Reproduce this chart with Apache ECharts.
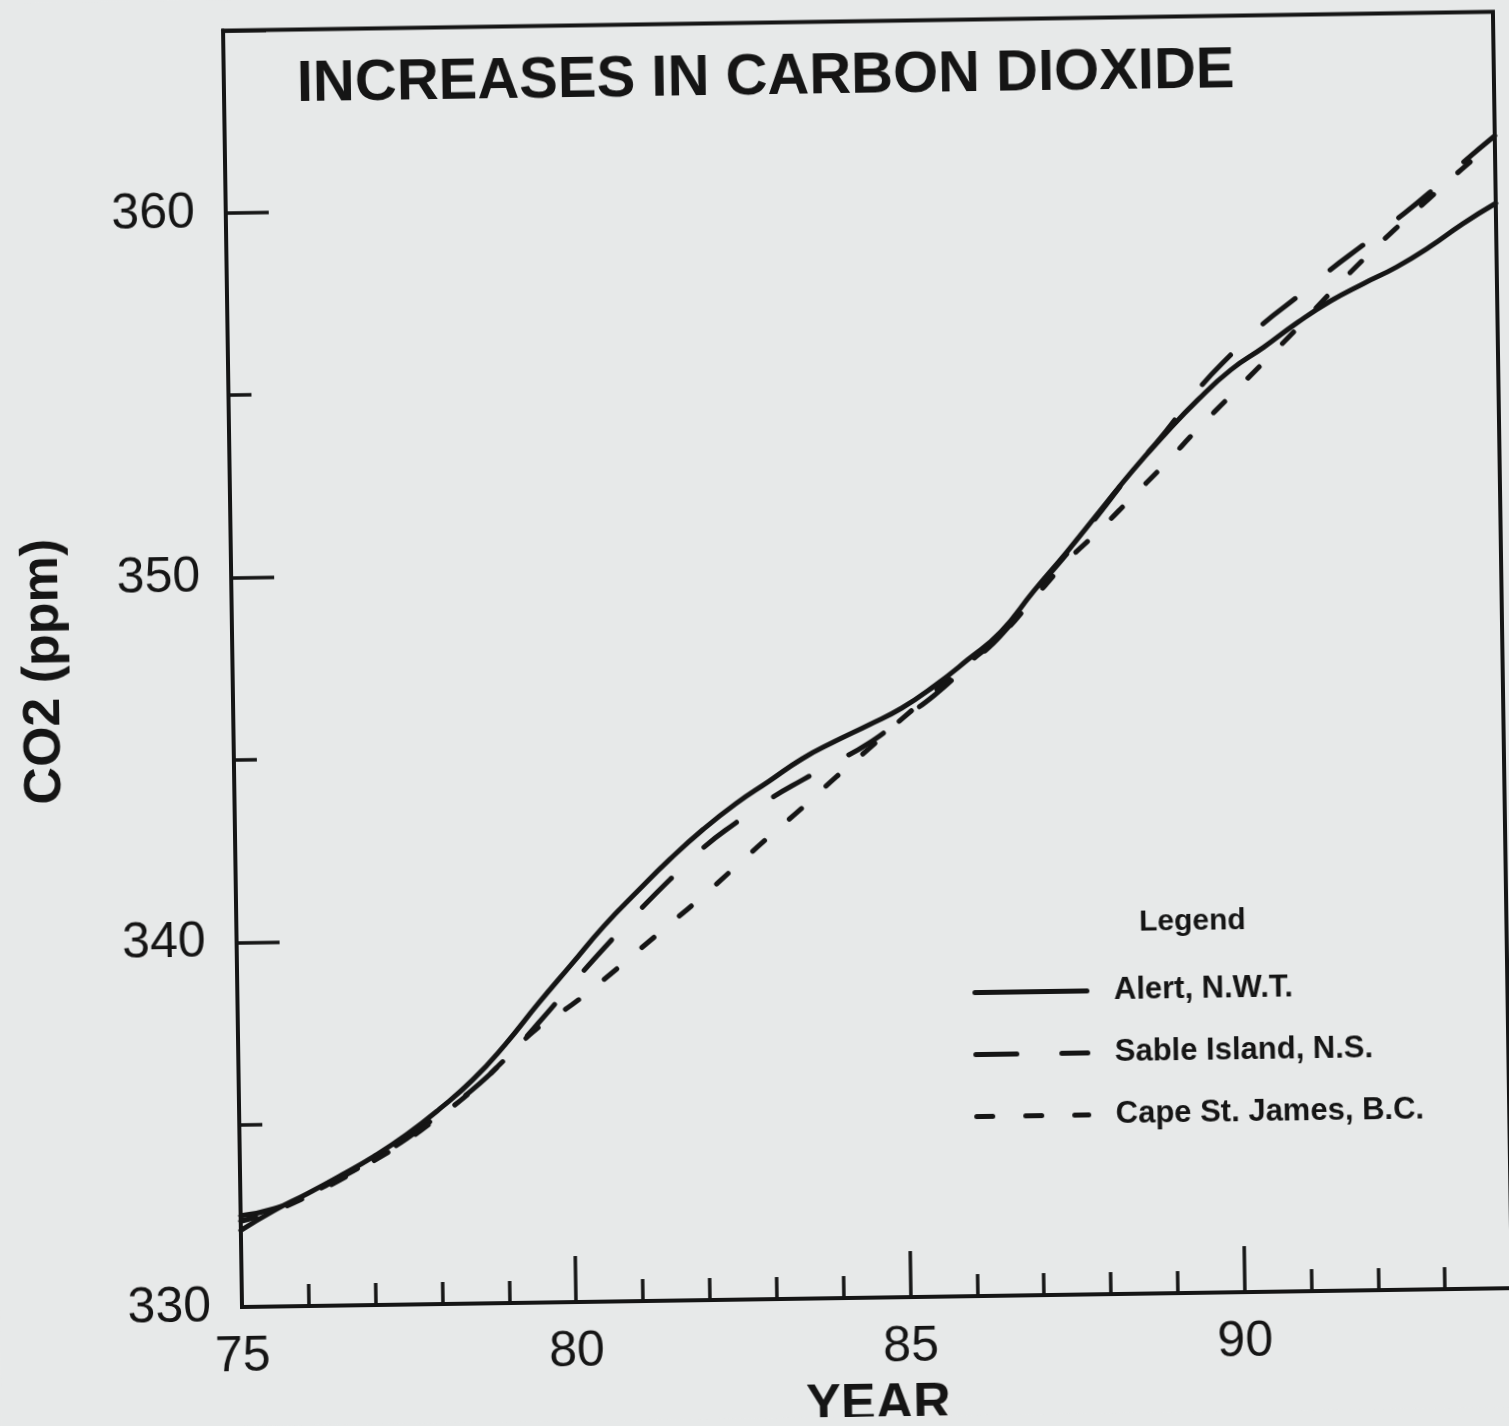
<!DOCTYPE html>
<html>
<head>
<meta charset="utf-8">
<title>Increases in Carbon Dioxide</title>
<script src="https://cdn.jsdelivr.net/npm/echarts@6/dist/echarts.min.js"></script>
<style>
  html, body {
    margin: 0;
    padding: 0;
    width: 1509px;
    height: 1426px;
    overflow: hidden;
    background: #e7e9e9;
  }
  /* the scanned figure sits slightly tilted on the page */
  #chart {
    width: 1560px;
    height: 1426px;
    transform: rotate(-0.85deg);
    transform-origin: 242px 1307px;
  }
</style>
</head>
<body>
<div id="chart"></div>
<script>
const years = [75, 75.5, 76, 76.5, 77, 77.5, 78, 78.5, 79, 79.5, 80, 80.5, 81, 81.5, 82, 82.5, 83, 83.5, 84, 84.5,
  85, 85.5, 86, 86.5, 87, 87.5, 88, 88.5, 89, 89.5, 90, 90.5, 91, 91.5, 92, 92.5, 93, 93.5, 94];

const alert = [332.1, 332.63, 333.08, 333.56, 334.07, 334.66, 335.35, 336.13, 337.1, 338.2, 339.25, 340.3, 341.22,
  342.1, 342.9, 343.6, 344.2, 344.8, 345.27, 345.7, 346.15, 346.75, 347.45, 348.2, 349.3, 350.35, 351.45, 352.55,
  353.55, 354.48, 355.29, 355.9, 356.55, 357.13, 357.6, 358.04, 358.58, 359.2, 359.75];

const sable = [332.5, 332.68, 333.05, 333.5, 334.0, 334.55, 335.2, 335.87, 336.7, 337.67, 338.7, 339.7, 340.65,
  341.55, 342.4, 343.08, 343.7, 344.22, 344.7, 345.2, 345.85, 346.5, 347.3, 348.1, 349.25, 350.3, 351.4, 352.55,
  353.6, 354.75, 355.7, 356.55, 357.25, 357.98, 358.65, 359.33, 360.05, 360.85, 361.6];

const capeStJames = [332.35, 332.62, 333.0, 333.45, 333.95, 334.5, 335.15, 335.85, 336.7, 337.55, 338.15, 338.85,
  339.6, 340.35, 341.1, 341.9, 342.7, 343.47, 344.28, 345.05, 345.85, 346.6, 347.35, 348.1, 349.1, 350.1, 350.95,
  351.85, 352.75, 353.7, 354.6, 355.5, 356.4, 357.35, 358.25, 359.1, 359.9, 360.7, 361.45];

const seriesNames = ['Alert, N.W.T.', 'Sable Island, N.S.', 'Cape St. James, B.C.'];
const xLabelYears = [75, 80, 85, 90];
const yLabelValues = [330, 340, 350, 360];

const ink = '#151515';
const font = '"Liberation Sans", Arial, sans-serif';

const pairs = (vals) => years.map((y, i) => [y, vals[i]]);

const lineSeries = (name, vals, type) => ({
  name,
  type: 'line',
  data: pairs(vals),
  xAxisIndex: 0,
  yAxisIndex: 0,
  smooth: true,
  symbol: 'none',
  lineStyle: { color: ink, width: 5, type, cap: 'round' },
  itemStyle: { color: ink },
});

const chart = echarts.init(document.getElementById('chart'), null, { renderer: 'canvas' });

chart.setOption({
  animation: false,
  backgroundColor: '#e7e9e9',
  title: {
    text: 'INCREASES IN CARBON DIOXIDE',
    left: 315,
    top: 57,
    padding: 0,
    textStyle: { fontFamily: font, fontSize: 58, fontWeight: 'bold', color: ink },
  },
  graphic: [
    {
      type: 'text',
      x: 1198,
      y: 936,
      style: {
        text: 'Legend',
        fill: ink,
        font: 'bold 30px ' + font,
        textAlign: 'center',
        textVerticalAlign: 'middle',
      },
    },
  ],
  legend: {
    orient: 'vertical',
    left: 977,
    top: 988,
    padding: 0,
    itemWidth: 112,
    itemHeight: 31,
    itemGap: 31,
    data: seriesNames,
    lineStyle: { width: 5 },
    // hide the marker dot that line series put in the middle of the sample
    itemStyle: { color: 'transparent', borderWidth: 0, opacity: 0 },
    textStyle: {
      fontFamily: font,
      fontSize: 31,
      fontWeight: 'bold',
      color: ink,
      lineHeight: 31,
      padding: [0, 0, 0, 22],
    },
  },
  grid: {
    left: 242,
    top: 30.5,
    width: 1270,
    height: 1276.5,
    outerBoundsMode: 'none',
    containLabel: false,
    show: true,
    borderColor: ink,
    borderWidth: 4,
    backgroundColor: 'transparent',
  },
  xAxis: [
    {
      type: 'value',
      min: 75,
      max: 94,
      interval: 5,
      position: 'bottom',
      name: 'YEAR',
      nameLocation: 'middle',
      nameGap: 82,
      nameTextStyle: { fontFamily: font, fontSize: 52, fontWeight: 'bold', color: ink },
      axisLine: { lineStyle: { color: ink, width: 4 } },
      axisTick: { inside: true, length: 46, lineStyle: { color: ink, width: 3.5 } },
      axisLabel: {
        fontFamily: font,
        fontSize: 50,
        color: ink,
        margin: 25,
        formatter: (v) => (xLabelYears.includes(v) ? String(v) : ''),
      },
      splitLine: { show: false },
    },
    {
      type: 'value',
      min: 75,
      max: 94,
      interval: 1,
      position: 'bottom',
      axisLine: { show: false },
      axisTick: { inside: true, length: 22, lineStyle: { color: ink, width: 3.5 } },
      axisLabel: { show: false },
      splitLine: { show: false },
    },
  ],
  yAxis: [
    {
      type: 'value',
      min: 330,
      max: 365,
      interval: 10,
      position: 'left',
      name: 'CO2 (ppm)',
      nameLocation: 'middle',
      nameGap: 162,
      nameTextStyle: { fontFamily: font, fontSize: 52, fontWeight: 'bold', color: ink },
      axisLine: { show: true, lineStyle: { color: ink, width: 4 } },
      axisTick: { show: true, inside: true, length: 43, lineStyle: { color: ink, width: 3.5 } },
      axisLabel: {
        fontFamily: font,
        fontSize: 50,
        color: ink,
        margin: 31,
        formatter: (v) => (yLabelValues.includes(v) ? String(v) : ''),
      },
      splitLine: { show: false },
    },
    {
      type: 'value',
      min: 330,
      max: 365,
      interval: 5,
      position: 'left',
      axisLine: { show: false },
      axisTick: { show: true, inside: true, length: 23, lineStyle: { color: ink, width: 3.5 } },
      axisLabel: { show: false },
      splitLine: { show: false },
    },
  ],
  series: [
    lineSeries(seriesNames[0], alert, 'solid'),
    lineSeries(seriesNames[1], sable, [41, 45]),
    lineSeries(seriesNames[2], capeStJames, [16, 33]),
  ],
});
</script>
</body>
</html>
